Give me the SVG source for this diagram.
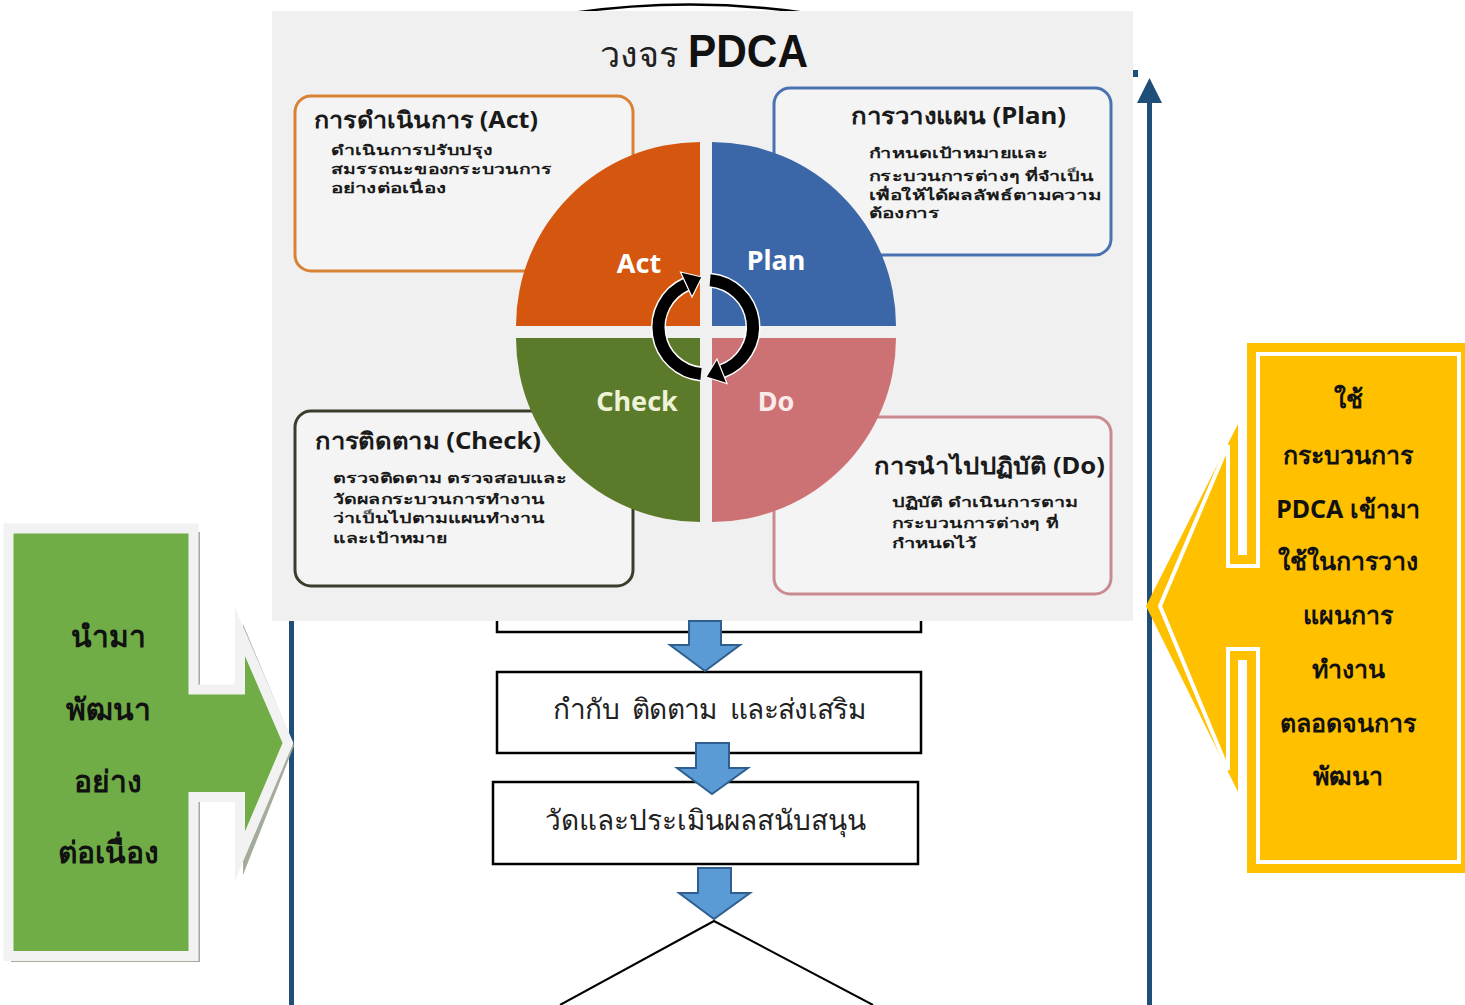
<svg xmlns="http://www.w3.org/2000/svg" width="1465" height="1005" viewBox="0 0 1465 1005">
<defs>
<style>
text{font-family:"Noto Sans","DejaVu Sans",sans-serif;}
.flowbox{fill:#ffffff;stroke:#000;stroke-width:2.5;}
.flowtxt{font-size:28px;fill:#222;text-anchor:middle;}
.barrow{fill:#5b9bd5;stroke:#2f5f8f;stroke-width:2;}
.vline{fill:#1f4e79;}
.pbox{fill:#f4f4f4;stroke-width:3;}
.ptitle{font-size:23px;font-weight:bold;fill:#1a1a1a;}
.pbody{font-size:14px;font-weight:bold;fill:#1a1a1a;}
.qlabel{font-size:27px;font-weight:bold;fill:#ffffff;text-anchor:middle;}
.gtxt{font-size:30px;font-weight:bold;fill:#111;text-anchor:middle;}
.ytxt{font-size:25px;font-weight:bold;fill:#111;text-anchor:middle;}
</style>
</defs>

<!-- top arc (partly hidden) -->
<path d="M572,13 Q690,-4 806,13" fill="none" stroke="#000" stroke-width="2.5"/>

<!-- vertical lines -->
<g id="left-line"><rect class="vline" x="289" y="618" width="5" height="387"/></g>
<g id="right-line">
<rect class="vline" x="1147" y="100" width="5" height="905"/>
<polygon class="vline" points="1149.5,78 1137,103 1162,103"/>
<rect class="vline" x="1133" y="70" width="5" height="7"/>
</g>

<!-- flow box 1 (partly hidden under picture) -->
<g id="flow1"><rect class="flowbox" x="497" y="560" width="424" height="72"/></g>

<!-- PDCA picture -->
<g id="pdca">
<rect x="272" y="11" width="861" height="610" fill="#f0f0f0"/>
<text x="600" y="67" font-size="36" fill="#222">วงจร</text>
<text x="688" y="67" font-size="46" font-weight="bold" fill="#111" textLength="120" lengthAdjust="spacingAndGlyphs" style="font-family:'Liberation Sans',sans-serif">PDCA</text>

<g id="box-act">
<rect class="pbox" x="295" y="96" width="338" height="175" rx="16" stroke="#d98235"/>
<text class="ptitle" x="314" y="128" textLength="224" lengthAdjust="spacingAndGlyphs">การดำเนินการ (Act)</text>
<text class="pbody" x="331" y="155" textLength="162" lengthAdjust="spacingAndGlyphs">ดำเนินการปรับปรุง</text>
<text class="pbody" x="331" y="174" textLength="221" lengthAdjust="spacingAndGlyphs">สมรรถนะของกระบวนการ</text>
<text class="pbody" x="331" y="193" textLength="115" lengthAdjust="spacingAndGlyphs">อย่างต่อเนื่อง</text>
</g>
<g id="box-plan">
<rect class="pbox" x="774" y="88" width="337" height="167" rx="16" stroke="#4a72b0"/>
<text class="ptitle" x="851" y="124" textLength="215" lengthAdjust="spacingAndGlyphs">การวางแผน (Plan)</text>
<text class="pbody" x="869" y="158" textLength="179" lengthAdjust="spacingAndGlyphs">กำหนดเป้าหมายและ</text>
<text class="pbody" x="869" y="181" textLength="225" lengthAdjust="spacingAndGlyphs">กระบวนการต่างๆ ที่จำเป็น</text>
<text class="pbody" x="869" y="200" textLength="232" lengthAdjust="spacingAndGlyphs">เพื่อให้ได้ผลลัพธ์ตามความ</text>
<text class="pbody" x="869" y="218" textLength="71" lengthAdjust="spacingAndGlyphs">ต้องการ</text>
</g>
<g id="box-check">
<rect class="pbox" x="295" y="411" width="338" height="175" rx="16" stroke="#3a3d2a"/>
<text class="ptitle" x="315" y="449" textLength="226" lengthAdjust="spacingAndGlyphs">การติดตาม (Check)</text>
<text class="pbody" x="333" y="483" textLength="234" lengthAdjust="spacingAndGlyphs">ตรวจติดตาม ตรวจสอบและ</text>
<text class="pbody" x="333" y="504" textLength="212" lengthAdjust="spacingAndGlyphs">วัดผลกระบวนการทำงาน</text>
<text class="pbody" x="333" y="523" textLength="212" lengthAdjust="spacingAndGlyphs">ว่าเป็นไปตามแผนทำงาน</text>
<text class="pbody" x="333" y="543" textLength="114" lengthAdjust="spacingAndGlyphs">และเป้าหมาย</text>
</g>
<g id="box-do">
<rect class="pbox" x="774" y="417" width="337" height="177" rx="16" stroke="#c98a90"/>
<text class="ptitle" x="874" y="474" textLength="231" lengthAdjust="spacingAndGlyphs">การนำไปปฏิบัติ (Do)</text>
<text class="pbody" x="892" y="507" textLength="186" lengthAdjust="spacingAndGlyphs">ปฏิบัติ ดำเนินการตาม</text>
<text class="pbody" x="892" y="528" textLength="166" lengthAdjust="spacingAndGlyphs">กระบวนการต่างๆ ที่</text>
<text class="pbody" x="892" y="548" textLength="85" lengthAdjust="spacingAndGlyphs">กำหนดไว้</text>
</g>

<g id="quad-act">
<path d="M700,326 L516,326 A184,184 0 0 1 700,142 Z" fill="#d4560f"/>
<text class="qlabel" x="639" y="273">Act</text>
</g>
<g id="quad-plan">
<path d="M712,326 L712,142 A184,184 0 0 1 896,326 Z" fill="#3b66a8"/>
<text class="qlabel" x="776" y="270">Plan</text>
</g>
<g id="quad-check">
<path d="M700,338 L700,522 A184,184 0 0 1 516,338 Z" fill="#5b7a2a"/>
<text class="qlabel" x="637" y="411" style="fill:#eef3d8">Check</text>
</g>
<g id="quad-do">
<path d="M712,338 L896,338 A184,184 0 0 1 712,522 Z" fill="#cd7274"/>
<text class="qlabel" x="776" y="411" style="fill:#fbeaea">Do</text>
</g>

<g id="cycle">
<path d="M701,374 A47,47 0 0 1 686.1,284.4" fill="none" stroke="#fff" stroke-width="15"/>
<path d="M710.1,280.2 A47,47 0 0 1 722.1,371.2" fill="none" stroke="#fff" stroke-width="15"/>
<path d="M701,374 A47,47 0 0 1 686.1,284.4" fill="none" stroke="#000" stroke-width="12"/>
<polygon points="702,277 680.5,272 692,297" fill="#000" stroke="#fff" stroke-width="1.2"/>
<path d="M710.1,280.2 A47,47 0 0 1 722.1,371.2" fill="none" stroke="#000" stroke-width="12"/>
<polygon points="706,377 727,383.5 717,359" fill="#000" stroke="#fff" stroke-width="1.2"/>
</g>
</g>

<!-- flow boxes -->
<g id="flow2">
<rect class="flowbox" x="497" y="672" width="424" height="81"/>
<text class="flowtxt" x="709" y="719" textLength="313" lengthAdjust="spacing" xml:space="preserve">กำกับ  ติดตาม  และส่งเสริม</text>
</g>
<g id="flow3">
<rect class="flowbox" x="493" y="782" width="425" height="82"/>
<text class="flowtxt" x="705" y="830">วัดและประเมินผลสนับสนุน</text>
</g>
<g id="decision">
<path d="M560,1005 L714,921 L873,1005" fill="none" stroke="#000" stroke-width="2"/>
</g>

<!-- block arrows -->
<g id="connectors">
<polygon class="barrow" points="689,621 721,621 721,645 740,645 705,671 670,645 689,645"/>
<polygon class="barrow" points="696,743 729,743 729,768 748,768 712,794 677,768 696,768"/>
<polygon class="barrow" points="698,868 731,868 731,893 750,893 714,919 679,893 698,893"/>
</g>

<!-- green callout -->
<g id="green-callout">
<polygon points="11,532 200,532 200,692 243,692 243,624 294,746 243,875 243,800 200,800 200,962 11,962" fill="#a3ab9b"/>
<polygon points="8.5,528.5 193.5,528.5 193.5,689.5 240,689.5 240,632 288,743 240,856 240,797 193.5,797 193.5,956 8.5,956" fill="#70ad47" stroke="#f2f2f2" stroke-width="10" stroke-linejoin="miter" stroke-miterlimit="10"/>
<text class="gtxt" x="108" y="647">นำมา</text>
<text class="gtxt" x="108" y="720">พัฒนา</text>
<text class="gtxt" x="108" y="792">อย่าง</text>
<text class="gtxt" x="108" y="863">ต่อเนื่อง</text>
</g>

<!-- yellow callout -->
<g id="yellow-callout">
<polygon points="1247,343 1470,343 1470,873 1247,873 1247,660 1238,660 1238,792 1146,606 1238,424 1238,555 1247,555" fill="#ffc000"/>
<polygon points="1258,354 1459,354 1459,862 1258,862 1258,649 1228,649 1228,770 1160,606 1228,445 1228,566 1258,566" fill="#ffc000" stroke="#ffffff" stroke-width="4"/>
<text class="ytxt" x="1348" y="408">ใช้</text>
<text class="ytxt" x="1348" y="464">กระบวนการ</text>
<text class="ytxt" x="1348" y="518">PDCA เข้ามา</text>
<text class="ytxt" x="1348" y="570">ใช้ในการวาง</text>
<text class="ytxt" x="1348" y="624">แผนการ</text>
<text class="ytxt" x="1348" y="678">ทำงาน</text>
<text class="ytxt" x="1348" y="732">ตลอดจนการ</text>
<text class="ytxt" x="1348" y="785">พัฒนา</text>
</g>
</svg>
